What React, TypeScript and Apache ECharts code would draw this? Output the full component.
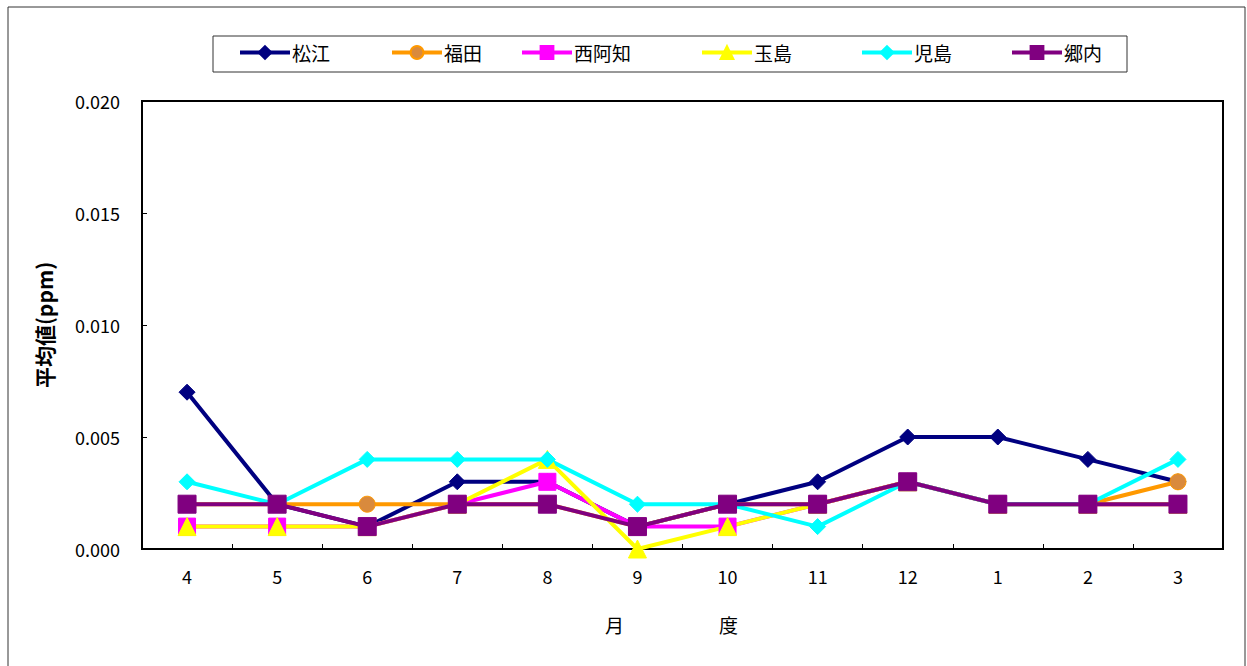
import React, { useEffect, useRef } from "react";
import * as echarts from "echarts";

const months = ["4", "5", "6", "7", "8", "9", "10", "11", "12", "1", "2", "3"];
const matsue = [0.007, 0.002, 0.001, 0.003, 0.003, 0.001, 0.002, 0.003, 0.005, 0.005, 0.004, 0.003];
const fukuda = [0.002, 0.002, 0.002, 0.002, 0.002, 0.001, 0.002, 0.002, 0.003, 0.002, 0.002, 0.003];
const nishiachi = [0.001, 0.001, 0.001, 0.002, 0.003, 0.001, 0.001, 0.002, 0.003, 0.002, 0.002, 0.002];
const tamashima = [0.001, 0.001, 0.001, 0.002, 0.004, 0.0, 0.001, 0.002, 0.003, 0.002, 0.002, 0.002];
const kojima = [0.003, 0.002, 0.004, 0.004, 0.004, 0.002, 0.002, 0.001, 0.003, 0.002, 0.002, 0.004];
const gonai = [0.002, 0.002, 0.001, 0.002, 0.002, 0.001, 0.002, 0.002, 0.003, 0.002, 0.002, 0.002];

const FONT = "'Noto Sans CJK JP', 'Noto Sans', sans-serif";

export default function App() {
  const ref = useRef<HTMLDivElement>(null);
  useEffect(() => {
    const chart = echarts.init(ref.current!, null, { renderer: "svg" });
    const defs = [
      { name: "松江", data: matsue, color: "#000080", symbol: "diamond", size: 16, border: "#000080" },
      { name: "福田", data: fukuda, color: "#D98A3D", symbol: "circle", size: 16, border: "#FF9900", line: "#FF9900" },
      { name: "西阿知", data: nishiachi, color: "#FF00FF", symbol: "rect", size: 17, border: "#FF00FF" },
      { name: "玉島", data: tamashima, color: "#FFFF00", symbol: "triangle", size: 18, border: "#FFFF00" },
      { name: "児島", data: kojima, color: "#00FFFF", symbol: "diamond", size: 16, border: "#00FFFF" },
      { name: "郷内", data: gonai, color: "#800080", symbol: "rect", size: 18, border: "#800080" },
    ];
    const legendLefts = [238, 390, 520, 700, 860, 1010];
    chart.setOption({
      animation: false,
      textStyle: { fontFamily: FONT },
      grid: {
        left: 142,
        top: 101,
        width: 1081,
        height: 448,
        show: true,
        borderColor: "#000",
        borderWidth: 2,
        backgroundColor: "transparent",
      },
      legend: defs.map((d, i) => ({
        data: [d.name],
        left: legendLefts[i],
        top: 43,
        itemWidth: 50,
        itemHeight: 16,
        itemGap: 0,
        padding: 0,
        lineStyle: { width: 4 },
        textStyle: { fontSize: 19, color: "#000", fontFamily: FONT, padding: [0, 0, 0, -3] },
      })),
      graphic: [
        {
          type: "rect",
          shape: { x: 8, y: 7, width: 1237, height: 700 },
          style: { fill: "none", stroke: "#333", lineWidth: 1 },
          silent: true,
        },
        {
          type: "rect",
          shape: { x: 213, y: 36, width: 914, height: 36 },
          style: { fill: "none", stroke: "#333", lineWidth: 1 },
          silent: true,
        },
      ],
      xAxis: {
        type: "category",
        data: months,
        boundaryGap: true,
        name: "月　　　　　度",
        nameLocation: "middle",
        nameGap: 66,
        nameTextStyle: { fontSize: 19, color: "#000", fontFamily: FONT, padding: [0, 22, 0, 0] },
        axisLine: { show: true, lineStyle: { color: "#000", width: 2 } },
        axisTick: { show: true, inside: true, length: 5, lineStyle: { color: "#000", width: 1 } },
        axisLabel: { fontSize: 18, color: "#000", margin: 18, fontFamily: FONT },
        splitLine: { show: false },
      },
      yAxis: {
        type: "value",
        min: 0,
        max: 0.02,
        interval: 0.005,
        name: "平均値(ppm)",
        nameLocation: "middle",
        nameGap: 88,
        nameRotate: 90,
        nameTextStyle: { fontSize: 21, fontWeight: "bold", color: "#000", fontFamily: FONT },
        axisLine: { show: true, lineStyle: { color: "#000", width: 2 } },
        axisTick: { show: true, inside: true, length: 5, lineStyle: { color: "#000", width: 1 } },
        axisLabel: {
          fontSize: 18,
          color: "#000",
          margin: 22,
          fontFamily: FONT,
          formatter: (v: number) => v.toFixed(3),
        },
        splitLine: { show: false },
      },
      series: defs.map((d) => ({
        name: d.name,
        type: "line",
        data: d.data,
        symbol: d.symbol,
        symbolSize: d.size,
        showSymbol: true,
        lineStyle: { color: d.line || d.color, width: 4 },
        itemStyle: { color: d.color, borderColor: d.border, borderWidth: 1 },
      })),
    });
    return () => chart.dispose();
  }, []);
  return (
    <div
      ref={ref}
      style={{ position: "fixed", left: 0, top: 0, width: 1247, height: 666, background: "#fff" }}
    />
  );
}
